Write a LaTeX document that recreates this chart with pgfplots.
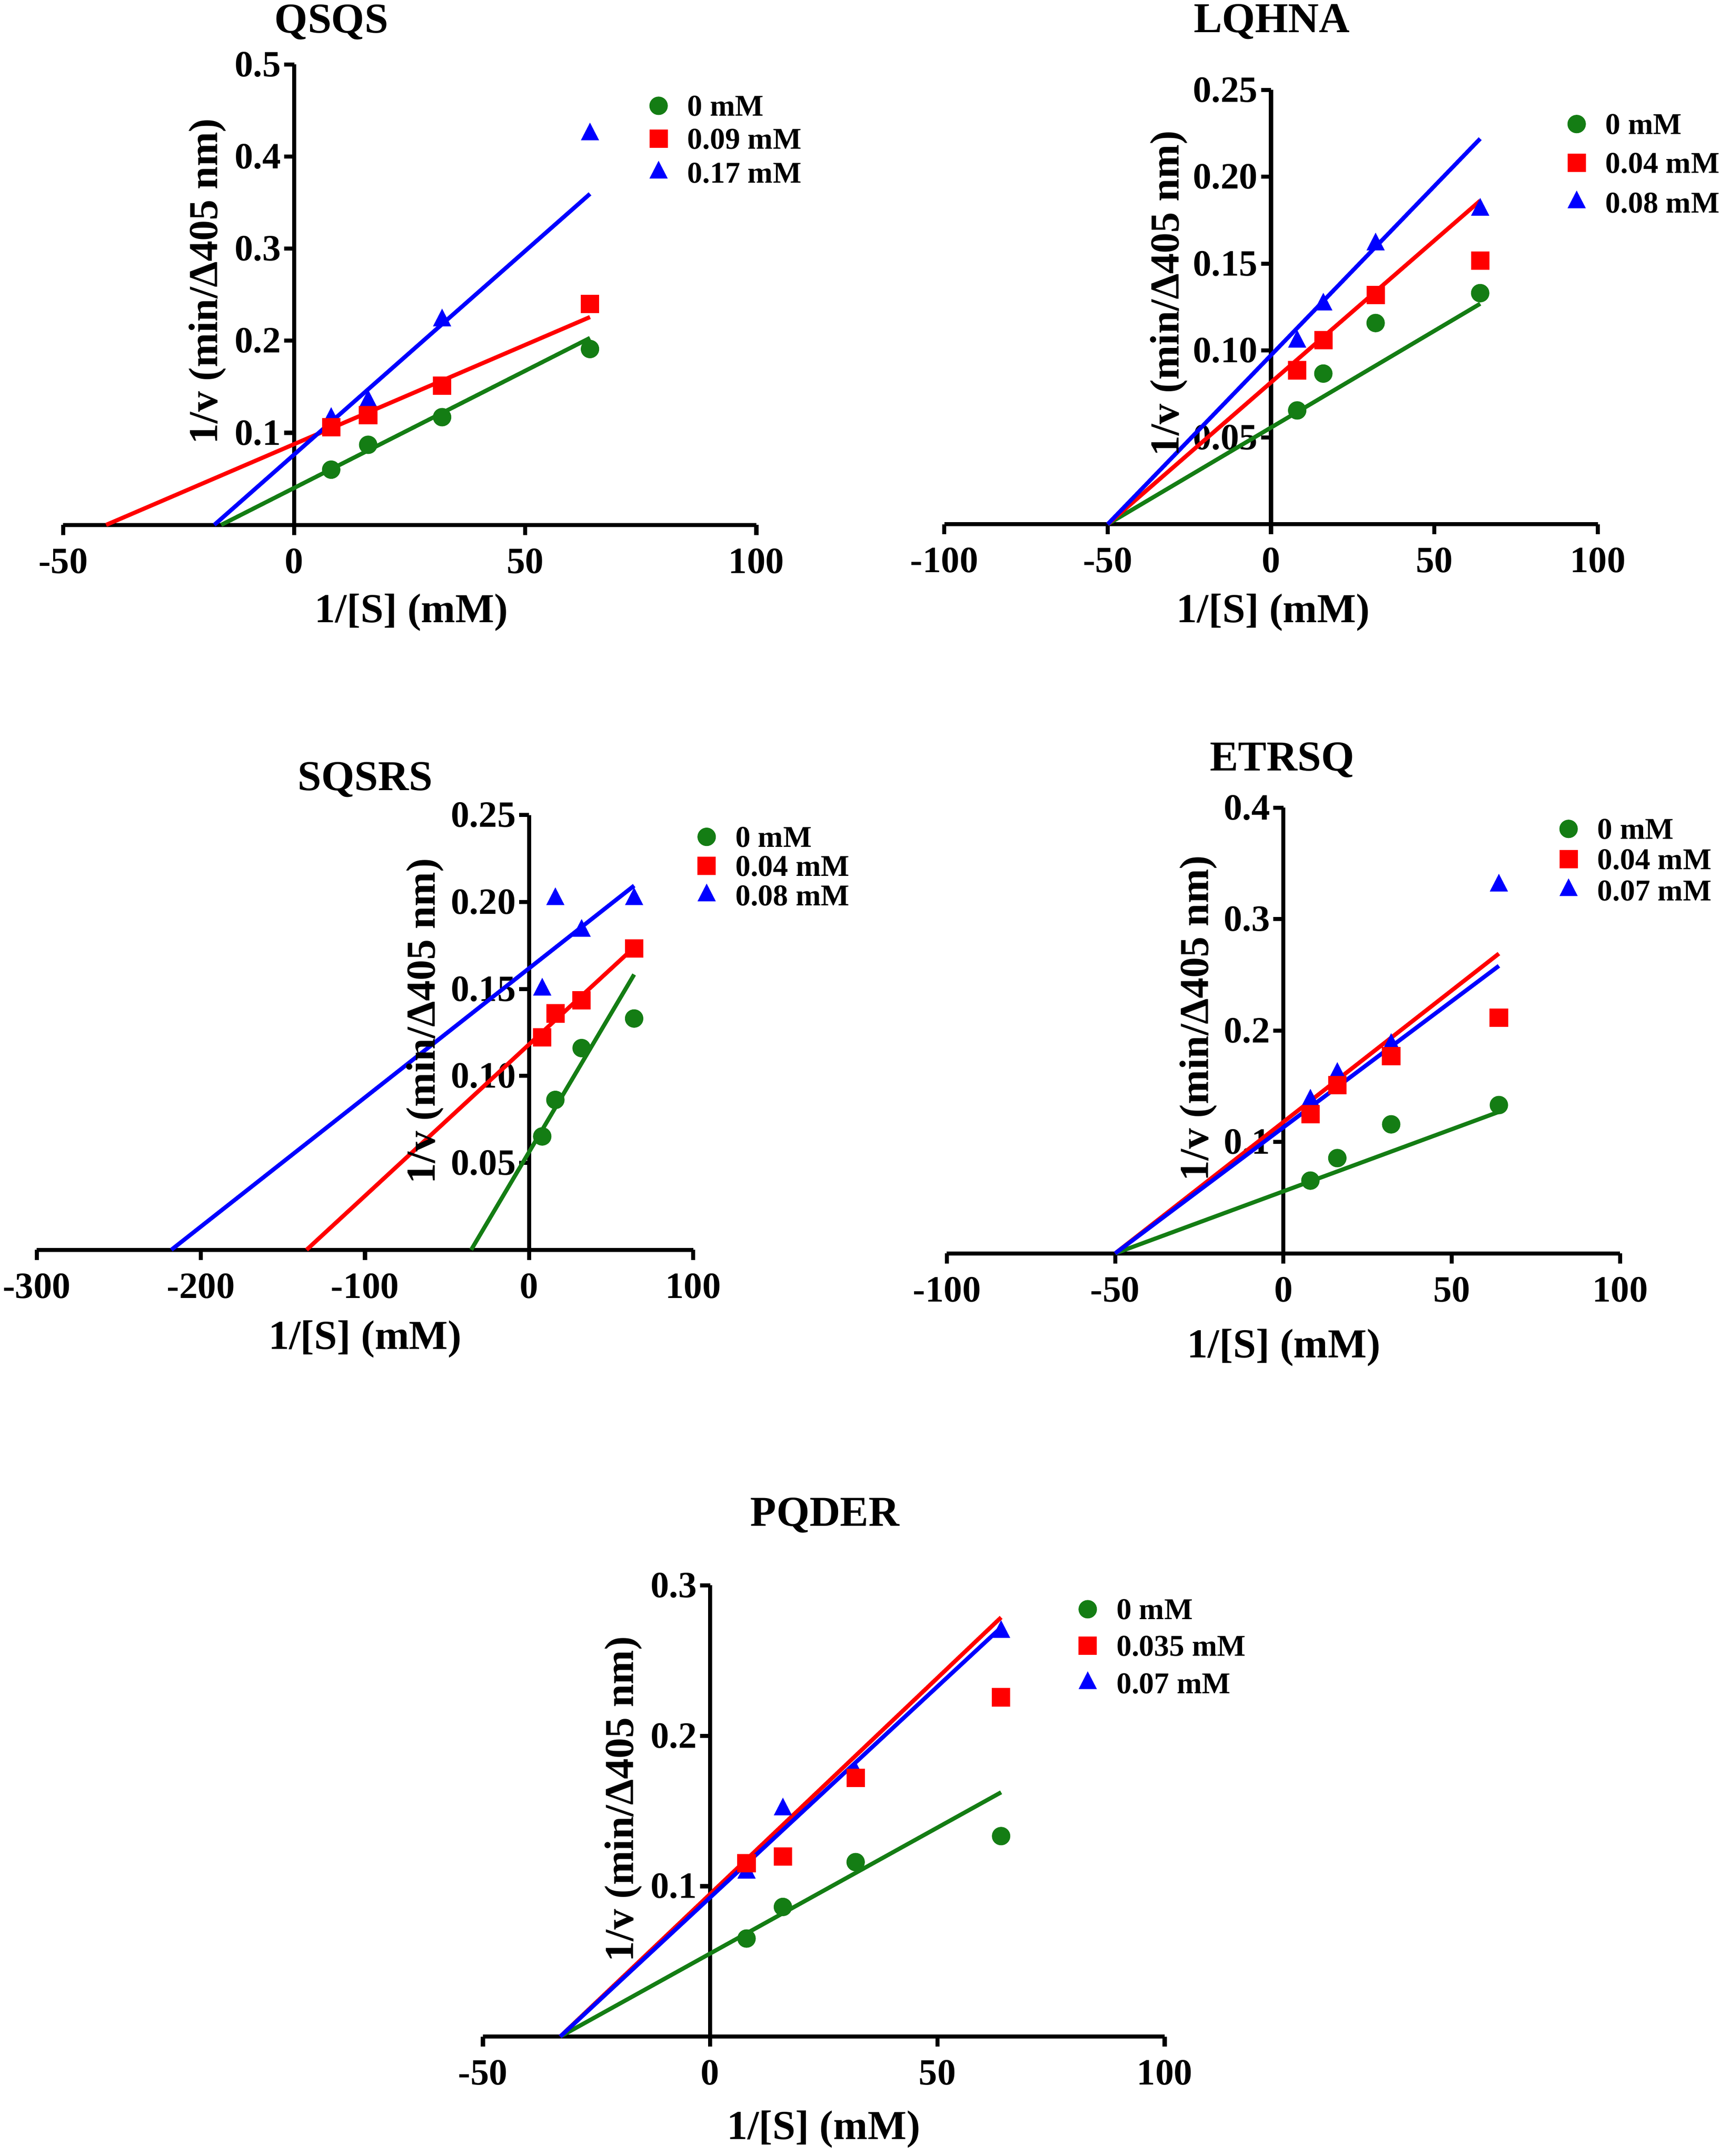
\documentclass[border=0pt]{standalone}
\usepackage{fontspec}
\setmainfont{Liberation Serif}
\usepackage{pgfplots}
\pgfplotsset{compat=1.18}
\definecolor{cg}{RGB}{20,125,20}
\definecolor{cr}{RGB}{255,0,0}
\definecolor{cb}{RGB}{0,0,255}
\newcommand\tickfont{\fontsize{27}{27}\selectfont\bfseries}
\newcommand\labfont{\fontsize{30}{30}\selectfont\bfseries}
\newcommand\titfont{\fontsize{31}{31}\selectfont\bfseries}
\newcommand\legfont{\fontsize{22}{22}\selectfont\bfseries}
\pgfplotsset{
 kin/.style={
  scale only axis, enlargelimits=false, clip=false, ymin=0,
  axis x line=bottom, axis y line=middle,
  axis line style={-, line width=3pt, black},
  every tick/.style={black, line width=3pt},
  major tick length=7.3pt,
  tick align=outside,
  hide obscured x ticks=false, hide obscured y ticks=false,
  xticklabel style={font=\tickfont, inner sep=0pt, anchor=north, yshift=-9.7pt},
  yticklabel style={font=\tickfont, inner sep=0pt, anchor=east, xshift=-2.2pt},
  reverse legend,
  legend cell align=left,
  legend style={draw=none, fill=none, inner sep=0pt, outer sep=0pt, anchor=north west,
    font=\legfont, nodes={inner sep=0pt, text height=15pt, text depth=0pt}, column sep=0pt},
 },
 mk/.style={only marks, legend image code/.code={\path[draw=none,fill=none] (-6.5pt,-5pt) rectangle (21pt,5pt); \draw[##1] plot coordinates {(0pt,0pt)};}},
 gm/.style={mk, cg, mark=*, mark size=6.5pt},
 rm/.style={mk, cr, mark=square*, mark size=6.5pt},
 bm/.style={mk, cb, mark=triangle*, mark size=7.3pt, mark options={yscale=1.12}},
 fitl/.style={no marks, line width=3pt, forget plot},
}
\begin{document}
\begin{tikzpicture}
\useasboundingbox (0,0) rectangle (1253pt,1571pt);

% ---------------- QSQS ----------------
\begin{axis}[kin, at={(46pt,1188.5pt)}, anchor=south west, width=505pt, height=335.5pt,
  xmin=-50, xmax=100, ymax=0.5,
  xtick={-50,0,50,100}, xticklabels={-50,0,50,100},
  ytick={0.1,0.2,0.3,0.4,0.5}, yticklabels={0.1,0.2,0.3,0.4,0.5},
  title={QSQS}, xlabel={1/[S] (mM)}, ylabel={1/v (min/Δ405 nm)},
  every axis title/.style={at={(axis description cs:0.3871,1.0686)}, anchor=base, font=\titfont, inner sep=0pt},
  every axis x label/.style={at={(axis description cs:0.5026,-0.2116)}, anchor=base, font=\labfont, inner sep=0pt},
  every axis y label/.style={at={(axis description cs:0.2079,0.5291)}, anchor=center, rotate=90, font=\labfont, inner sep=0pt},
  legend style={at={(axis description cs:0.8461,0.9326)}, row sep=9pt},
]
\addplot[bm] coordinates {(8,0.115) (16,0.134) (32,0.222) (64,0.424)};
\addlegendentry{0.17 mM}
\addplot[rm] coordinates {(8,0.106) (16,0.119) (32,0.151) (64,0.240)};
\addlegendentry{0.09 mM}
\addplot[gm] coordinates {(8,0.060) (16,0.087) (32,0.117) (64,0.191)};
\addlegendentry{0 mM}
\addplot[fitl, cg] coordinates {(-15.8,0) (64,0.203)};
\addplot[fitl, cr] coordinates {(-40.7,0) (64,0.2257)};
\addplot[fitl, cb] coordinates {(-17.3,0) (64,0.3595)};
\end{axis}

% ---------------- LQHNA ----------------
\begin{axis}[kin, at={(687.9pt,1189pt)}, anchor=south west, width=476.1pt, height=316.5pt,
  xmin=-100, xmax=100, ymax=0.25,
  xtick={-100,-50,0,50,100}, xticklabels={-100,-50,0,50,100},
  ytick={0.05,0.10,0.15,0.20,0.25}, yticklabels={0.05,0.10,0.15,0.20,0.25},
  title={LQHNA}, xlabel={1/[S] (mM)}, ylabel={1/v (min/Δ405 nm)},
  every axis title/.style={at={(axis description cs:0.5012,1.1327)}, anchor=base, font=\titfont, inner sep=0pt},
  every axis x label/.style={at={(axis description cs:0.5033,-0.2262)}, anchor=base, font=\labfont, inner sep=0pt},
  every axis y label/.style={at={(axis description cs:0.3436,0.5308)}, anchor=center, rotate=90, font=\labfont, inner sep=0pt},
  legend style={at={(axis description cs:0.954,0.945)}, row sep=13.2pt},
]
\addplot[bm] coordinates {(8,0.105) (16,0.1264) (32,0.161) (64,0.181)};
\addlegendentry{0.08 mM}
\addplot[rm] coordinates {(8,0.0886) (16,0.1059) (32,0.132) (64,0.1517)};
\addlegendentry{0.04 mM}
\addplot[gm] coordinates {(8,0.0655) (16,0.0867) (32,0.1158) (64,0.133)};
\addlegendentry{0 mM}
\addplot[fitl, cg] coordinates {(-50,0) (64,0.1269)};
\addplot[fitl, cr] coordinates {(-50,0) (64,0.1862)};
\addplot[fitl, cb] coordinates {(-50,0) (64,0.2219)};
\end{axis}

% ---------------- SQSRS ----------------
\begin{axis}[kin, at={(26.8pt,660.3pt)}, anchor=south west, width=478.2pt, height=316.8pt,
  xmin=-300, xmax=100, ymax=0.25,
  xtick={-300,-200,-100,0,100}, xticklabels={-300,-200,-100,0,100},
  ytick={0.05,0.10,0.15,0.20,0.25}, yticklabels={0.05,0.10,0.15,0.20,0.25},
  title={SQSRS}, xlabel={1/[S] (mM)}, ylabel={1/v (min/Δ405 nm)},
  every axis title/.style={at={(axis description cs:0.5002,1.0568)}, anchor=base, font=\titfont, inner sep=0pt},
  every axis x label/.style={at={(axis description cs:0.5002,-0.2285)}, anchor=base, font=\labfont, inner sep=0pt},
  every axis y label/.style={at={(axis description cs:0.5916,0.5262)}, anchor=center, rotate=90, font=\labfont, inner sep=0pt},
  legend style={at={(axis description cs:1.0069,0.9735)}, row sep=6pt},
]
\addplot[bm] coordinates {(8,0.1496) (16,0.2016) (32,0.1834) (64,0.2016)};
\addlegendentry{0.08 mM}
\addplot[rm] coordinates {(8,0.1222) (16,0.1359) (32,0.1434) (64,0.1732)};
\addlegendentry{0.04 mM}
\addplot[gm] coordinates {(8,0.0652) (16,0.0862) (32,0.116) (64,0.133)};
\addlegendentry{0 mM}
\addplot[fitl, cg] coordinates {(-35.3,0) (64,0.1583)};
\addplot[fitl, cr] coordinates {(-135.6,0) (64,0.1739)};
\addplot[fitl, cb] coordinates {(-218,0) (64,0.2094)};
\end{axis}

% ---------------- ETRSQ ----------------
\begin{axis}[kin, at={(689.8pt,657.7pt)}, anchor=south west, width=490.4pt, height=324.8pt,
  xmin=-100, xmax=100, ymax=0.4,
  xtick={-100,-50,0,50,100}, xticklabels={-100,-50,0,50,100},
  ytick={0.1,0.2,0.3,0.4}, yticklabels={0.1,0.2,0.3,0.4},
  title={ETRSQ}, xlabel={1/[S] (mM)}, ylabel={1/v (min/Δ405 nm)},
  every axis title/.style={at={(axis description cs:0.498,1.0828)}, anchor=base, font=\titfont, inner sep=0pt},
  every axis x label/.style={at={(axis description cs:0.5008,-0.2334)}, anchor=base, font=\labfont, inner sep=0pt},
  every axis y label/.style={at={(axis description cs:0.3736,0.5274)}, anchor=center, rotate=90, font=\labfont, inner sep=0pt},
  legend style={at={(axis description cs:0.9103,0.9754)}, row sep=7pt},
]
\addplot[bm] coordinates {(8,0.137) (16,0.161) (32,0.187) (64,0.33)};
\addlegendentry{0.07 mM}
\addplot[rm] coordinates {(8,0.125) (16,0.151) (32,0.177) (64,0.2116)};
\addlegendentry{0.04 mM}
\addplot[gm] coordinates {(8,0.0653) (16,0.0855) (32,0.1158) (64,0.1331)};
\addlegendentry{0 mM}
\addplot[fitl, cg] coordinates {(-50,0) (64,0.127)};
\addplot[fitl, cr] coordinates {(-50,0) (64,0.269)};
\addplot[fitl, cb] coordinates {(-50,0) (64,0.258)};
\end{axis}

% ---------------- PQDER ----------------
\begin{axis}[kin, at={(351.8pt,87pt)}, anchor=south west, width=496.7pt, height=328.8pt,
  xmin=-50, xmax=100, ymax=0.3,
  xtick={-50,0,50,100}, xticklabels={-50,0,50,100},
  ytick={0.1,0.2,0.3}, yticklabels={0.1,0.2,0.3},
  title={PQDER}, xlabel={1/[S] (mM)}, ylabel={1/v (min/Δ405 nm)},
  every axis title/.style={at={(axis description cs:0.5017,1.132)}, anchor=base, font=\titfont, inner sep=0pt},
  every axis x label/.style={at={(axis description cs:0.4997,-0.2278)}, anchor=base, font=\labfont, inner sep=0pt},
  every axis y label/.style={at={(axis description cs:0.2058,0.5262)}, anchor=center, rotate=90, font=\labfont, inner sep=0pt},
  legend style={at={(axis description cs:0.874,0.9699)}, row sep=11.6pt},
]
\addplot[bm] coordinates {(8,0.109) (16,0.151) (32,0.175) (64,0.269)};
\addlegendentry{0.07 mM}
\addplot[rm] coordinates {(8,0.1152) (16,0.1198) (32,0.172) (64,0.2256)};
\addlegendentry{0.035 mM}
\addplot[gm] coordinates {(8,0.0652) (16,0.0862) (32,0.116) (64,0.1333)};
\addlegendentry{0 mM}
\addplot[fitl, cg] coordinates {(-33,0) (64,0.1624)};
\addplot[fitl, cr] coordinates {(-33,0) (64,0.2787)};
\addplot[fitl, cb] coordinates {(-33,0) (64,0.272)};
\end{axis}
\end{tikzpicture}
\end{document}
